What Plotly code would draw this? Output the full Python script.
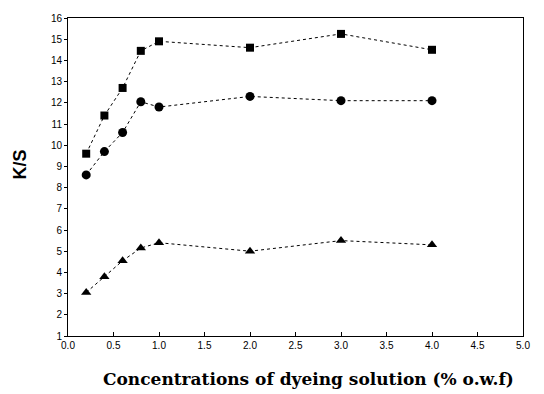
import plotly.graph_objects as go

conc = [0.2, 0.4, 0.6, 0.8, 1.0, 2.0, 3.0, 4.0]
ks_square = [9.6, 11.4, 12.7, 14.45, 14.9, 14.6, 15.25, 14.5]
ks_circle = [8.6, 9.7, 10.6, 12.05, 11.8, 12.3, 12.1, 12.1]
ks_triangle = [3.05, 3.8, 4.55, 5.15, 5.4, 5.0, 5.5, 5.3]

x_ticks = [0.0, 0.5, 1.0, 1.5, 2.0, 2.5, 3.0, 3.5, 4.0, 4.5, 5.0]
x_ticklabels = ["0.0", "0.5", "1.0", "1.5", "2.0", "2.5", "3.0", "3.5", "4.0", "4.5", "5.0"]
y_ticks = list(range(1, 17))

fig = go.Figure()
for ys, sym, sz in [(ks_square, "square", 8), (ks_circle, "circle", 9), (ks_triangle, "triangle-up", 9)]:
    fig.add_trace(go.Scatter(
        x=conc, y=ys, mode="lines+markers",
        line=dict(color="black", width=1, dash="dot"),
        marker=dict(symbol=sym, color="black", size=sz),
        showlegend=False,
    ))

fig.update_layout(
    width=544, height=394,
    margin=dict(l=68, r=21, t=13, b=58),
    paper_bgcolor="white", plot_bgcolor="white",
    font=dict(family="Liberation Sans", color="black"),
    annotations=[
        dict(text="<b>Concentrations of dyeing solution (% o.w.f)</b>",
             xref="paper", yref="paper", x=0.529, y=-0.135,
             xanchor="center", yanchor="middle", showarrow=False,
             font=dict(family="DejaVu Serif", size=17)),
        dict(text="<b>K/S</b>", textangle=-90,
             xref="paper", yref="paper", x=-0.105, y=0.54,
             xanchor="center", yanchor="middle", showarrow=False,
             font=dict(family="Liberation Sans", size=18)),
    ],
)
fig.update_xaxes(
    range=[0, 5], tickvals=x_ticks, ticktext=x_ticklabels,
    showgrid=False, zeroline=False,
    showline=True, linecolor="black", linewidth=1, mirror=True,
    ticks="inside", ticklen=4, tickcolor="black",
    tickfont=dict(size=10, family="Liberation Sans"),
)
fig.update_yaxes(
    range=[1, 16], tickvals=y_ticks,
    showgrid=False, zeroline=False,
    showline=True, linecolor="black", linewidth=1, mirror=True,
    ticks="outside", ticklen=3, tickcolor="black",
    tickfont=dict(size=10, family="Liberation Sans"),
)

fig.write_html("out.html")
